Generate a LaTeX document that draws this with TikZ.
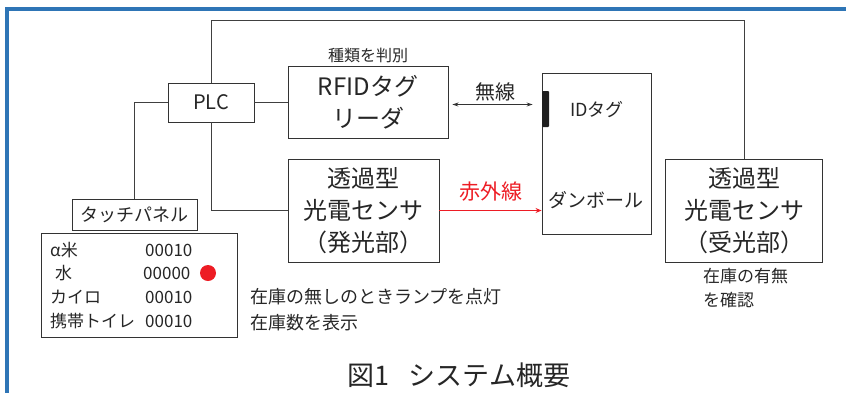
\documentclass[tikz,border=0pt]{standalone}
\usepackage{fontspec}
\setmainfont{Noto Sans CJK JP}
\usetikzlibrary{arrows.meta,positioning}
\definecolor{framebl}{RGB}{46,117,182}
\definecolor{irred}{RGB}{237,28,36}
\tikzset{
	unit/.style={draw=black!80,line width=0.9pt,text=black!85,inner sep=0pt,align=center},
	conn/.style={draw=black!75,line width=0.9pt},
	irarrow/.style={draw=irred,line width=0.9pt,-{Stealth[length=6pt,width=5pt]}},
	wless/.style={draw=black!80,line width=0.9pt,{Stealth[length=6pt,width=4pt]}-{Stealth[length=6pt,width=4pt]}},
	note/.style={text=black!85,inner sep=0pt,align=left},
	tagbar/.style={fill=black!88,rounded corners=1pt,minimum width=7pt,minimum height=36pt,inner sep=0pt},
	lamp/.style={circle,fill=irred,minimum size=16pt,inner sep=0pt}
}
\newcommand{\bigtxt}{\fontsize{24}{32}\selectfont}
\newcommand{\midtxt}{\fontsize{18}{24}\selectfont}
\newcommand{\smltxt}{\fontsize{17}{24}\selectfont}
\begin{document}
\begin{tikzpicture}[x=1pt,y=-1pt]
		\useasboundingbox (0,0) rectangle (846,392);
		
		% -------------------------------------------------
		% 1. Outer frame
		% -------------------------------------------------
		\draw[framebl,line width=3.2pt] (7,400) -- (7,9) -- (860,9);
		
		% -------------------------------------------------
		% 2. Units
		% -------------------------------------------------
		\node[unit,minimum width=86pt,minimum height=39pt,font=\fontsize{20}{24}\selectfont] (plc) at (211,102.5) {PLC};
		\node[unit,minimum width=160pt,minimum height=72pt,font=\bigtxt] (rfid) at (368,102.5) {RFIDタグ\\リーダ};
		\node[note,font=\fontsize{16}{18}\selectfont,above=3pt of rfid] (kind) {種類を判別};
		\node[unit,minimum width=109pt,minimum height=161pt] (box) at (596.5,153.5) {};
		\node[tagbar] (tag) at (545.5,109) {};
		\node[note,font=\midtxt] (tagtxt) at (597,110) {IDタグ};
		\node[note,font=\fontsize{19}{24}\selectfont] (boxtxt) at (596,200) {ダンボール};
		\node[unit,minimum width=151pt,minimum height=103pt,font=\bigtxt] (emit) at (363.5,210.5) {透過型\\光電センサ\\（発光部）};
		\node[unit,minimum width=157pt,minimum height=103pt,font=\bigtxt] (recv) at (744,210.5) {透過型\\光電センサ\\（受光部）};
		\node[note,font=\smltxt,anchor=north west] (stock) at (703,268) {在庫の有無\\を確認};
		
		% -------------------------------------------------
		% 3. Touch panel and display
		% -------------------------------------------------
		\node[unit,minimum width=125pt,minimum height=31pt,font=\midtxt] (touch) at (134.5,215) {タッチパネル};
		\node[unit,minimum width=196pt,minimum height=104pt] (disp) at (139,285) {};
		\node[note,font=\smltxt,anchor=west] (n1) at (50,250) {α米};
		\node[note,font=\smltxt,anchor=west] (n2) at (55,273) {水};
		\node[note,font=\smltxt,anchor=west] (n3) at (50,297) {カイロ};
		\node[note,font=\smltxt,anchor=west] (n4) at (50,321) {携帯トイレ};
		\node[note,font=\smltxt,anchor=west] (v1) at (145,250) {00010};
		\node[note,font=\smltxt,anchor=west] (v2) at (143,273) {00000};
		\node[note,font=\smltxt,anchor=west] (v3) at (145,297) {00010};
		\node[note,font=\smltxt,anchor=west] (v4) at (145,321) {00010};
		\node[lamp] (lmp) at (208,273) {};
		\node[note,font=\fontsize{18}{26}\selectfont,anchor=north west] (lampnote) at (250,288) {在庫の無しのときランプを点灯\\在庫数を表示};
		
		% -------------------------------------------------
		% 4. Connections
		% -------------------------------------------------
		\coordinate (topr) at (744,20);
		\draw[conn] (plc.north) |- (topr) -- (recv.north);
		\draw[conn] (plc.west) -| (touch.north);
		\draw[conn] (plc.east) -- (rfid.west);
		\draw[conn] (plc.south) |- (emit.west);
		
		% wireless link
		\draw[wless,shorten <=4pt,shorten >=9pt] ([yshift=-2pt]rfid.east) -- ([yshift=-2pt]rfid.east -| box.west)
		node[midway,above=3pt,note,font=\fontsize{20}{24}\selectfont] (wl) {無線};
		
		% infrared beam
		\draw[irarrow] (emit.east) -- (emit.east -| box.west)
		node[midway,above=9pt,note,text=irred,font=\fontsize{21}{24}\selectfont] (ir) {赤外線};
		
		% -------------------------------------------------
		% 5. Caption
		% -------------------------------------------------
		\node[note,font=\fontsize{27}{30}\selectfont] (cap) at (459,375) {図1\hspace{0.7em}システム概要};
		
	\end{tikzpicture}
\end{document}
